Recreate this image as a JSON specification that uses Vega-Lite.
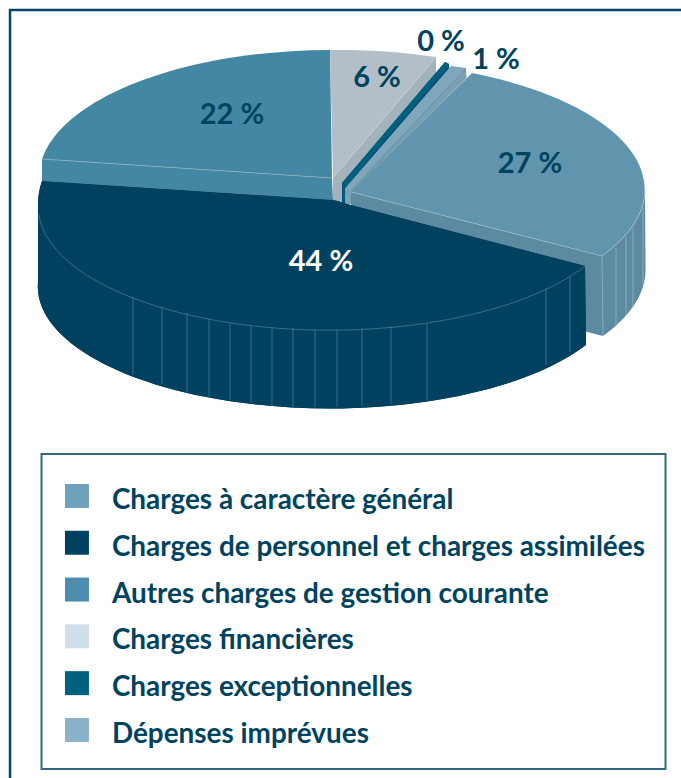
{
"$schema":"https://vega.github.io/schema/vega-lite/v6.json",
"width":674,"height":770,
"autosize":{"type":"none"},
"padding":{"left":10,"top":10,"right":0,"bottom":0},
"background":"#ffffff",
"view":{"stroke":"#004563","strokeWidth":2.5,"fill":null},
"config":{"legend":{"strokeWidth":2}},
"data":{"values":[
{"category":"Autres charges de gestion courante","value":22,"label":"22 %"},
{"category":"Charges financières","value":6,"label":"6 %"},
{"category":"Charges exceptionnelles","value":0,"label":"0 %"},
{"category":"Dépenses imprévues","value":1,"label":"1 %"},
{"category":"Charges à caractère général","value":27,"label":"27 %"},
{"category":"Charges de personnel et charges assimilées","value":44,"label":"44 %"}
]},
"layer":[
{"mark":{"type":"point","filled":true,"opacity":1,"strokeWidth":0},
 "encoding":{
  "size":{"value":4},
  "color":{"field":"category","type":"nominal","legend":null,
   "scale":{"domain":["Charges à caractère général","Charges de personnel et charges assimilées","Autres charges de gestion courante","Charges financières","Charges exceptionnelles","Dépenses imprévues"],
            "range":["#5b8aa1","#00415f","#4487a3","#a4b2bb","#00587a","#7ba0b4"]}},
  "shape":{"field":"category","type":"nominal","legend":null,
   "scale":{"domain":["Charges à caractère général","Charges de personnel et charges assimilées","Autres charges de gestion courante","Charges financières","Charges exceptionnelles","Dépenses imprévues"],
            "range":[
"M4,-203 L255,-139 A294,128 0 0 0 298,-205 L298.5,-128 A294,128 0 0 1 256,-59 L4,-123 Z",
"M-305,-214 L-14,-195 Q-8,-194 -4,-192 L238,-129 L239,-50 A292,122 0 0 1 -309,-113 L-309,-190 Q-309,-203 -305,-214 Z",
"M-305,-236 L-15,-217 L-14,-195 L-305,-214 Z",
"M-14,-217 L89,-338 L89,-316 L-2,-209 L-2,-191 L-14,-195 Z",
"M-5,-212 L98,-333 L102,-331 L102,-325 L-2,-207 L-2,-191 L-5,-191 Z",
"M-2,-207 L119,-327 L119.5,-317 L4,-202 L4,-191 L-2,-191 Z"]}}
 }},
{"mark":{"type":"point","filled":true,"opacity":1,"strokeWidth":0},
 "encoding":{
  "size":{"value":4},
  "color":{"field":"category","type":"nominal","legend":null,
   "scale":{"domain":["Charges à caractère général","Charges de personnel et charges assimilées","Autres charges de gestion courante","Charges financières","Charges exceptionnelles","Dépenses imprévues"],
            "range":["#6095ad","#00415f","#4487a3","#b2bfc9","#00607f","#7fa6ba"]}},
  "shape":{"field":"category","type":"nominal","legend":null,
   "scale":{"domain":["Charges à caractère général","Charges de personnel et charges assimilées","Autres charges de gestion courante","Charges financières","Charges exceptionnelles","Dépenses imprévues"],
            "range":[
"M4,-203 L125,-322 A294,128 0 0 1 255,-139 Z",
"M-305,-214 L-14,-195 Q-8,-194 -4,-192 L238,-129 L239,-50 A292,122 0 0 1 -309,-113 L-309,-190 Q-309,-203 -305,-214 Z",
"M-15,-217 L-305,-236 A293,128 0 0 1 -17,-345 Z",
"M-14,-217 L-17,-345 A293,128 0 0 1 89,-338 Z",
"M-5,-212 L98,-333 L102,-331 L-1,-210 Z",
"M-2,-207 L104,-329 L119,-327 L3,-205 Z"]}}
 }},
{"mark":{"type":"point","filled":false,"opacity":1,"strokeWidth":0.7},
 "encoding":{
  "size":{"value":4},
  "color":{"field":"category","type":"nominal","legend":null,
   "scale":{"domain":["Charges à caractère général","Charges de personnel et charges assimilées","Autres charges de gestion courante","Charges financières","Charges exceptionnelles","Dépenses imprévues"],
            "range":["#9dbac8","#4f8199","#8fb3c4","#c5d0d8","#00415f","#5b8aa1"]}},
  "shape":{"field":"category","type":"nominal","legend":null,
   "scale":{"domain":["Charges à caractère général","Charges de personnel et charges assimilées","Autres charges de gestion courante","Charges financières","Charges exceptionnelles","Dépenses imprévues"],
            "range":[
"M4,-203 L255,-139 M255,-139 L256,-59 M269,-147 L269,-68 M279,-158 L279,-79 M286,-167 L286,-88 M296,-188 L296,-109 M255,-139 A294,128 0 0 0 298,-205",
"M-308,-180 A291,123 0 0 0 238,-129 M-214,-98 L-214,-20 M-185,-88 L-185,-11 M-160,-82 L-160,-3 M-138,-77 L-138,2 M-117,-73 L-117,5 M-96,-70 L-96,8 M-75,-68 L-75,11 M-54,-67 L-54,12 M-32,-66 L-32,12 M-10,-66 L-10,12 M15,-67 L15,11 M44,-69 L44,9 M80,-72 L80,5 M199,-107 L199,-30 M223,-118 L223,-43",
"M-305,-236 L-15,-217",
"M-14,-217 L89,-338",
"M-2,-207 L102,-328",
"M4,-203 L119,-327"]}}
 }},
{"mark":{"type":"text","font":"Lato","fontWeight":"bold","fontSize":29,"baseline":"middle","align":"center"},
 "encoding":{
  "text":{"field":"label","type":"nominal"},
  "x":{"field":"value","type":"quantitative","axis":null,"scale":{"domain":[0,1,6,22,27,44],"range":[431,486,367,222,520,311]}},
  "y":{"field":"value","type":"quantitative","axis":null,"scale":{"domain":[0,1,6,22,27,44],"range":[32,50,68,105,154,252]}},
  "color":{"condition":{"test":"datum.value===44","value":"#ffffff"},"value":"#00435f"}
 }},
{"mark":{"type":"point","filled":true,"opacity":1,"strokeWidth":0},
 "encoding":{
  "size":{"value":0},
  "color":{"field":"category","type":"nominal",
   "scale":{"domain":["Charges à caractère général","Charges de personnel et charges assimilées","Autres charges de gestion courante","Charges financières","Charges exceptionnelles","Dépenses imprévues"],
            "range":["#6ea2bc","#00415f","#4d8dab","#d0e0ea","#00607f","#8ab2c8"]},
   "legend":{"title":" ","titleFontSize":8,"titlePadding":0,"orient":"none","legendX":31.5,"legendY":444,"strokeColor":"#33667f","padding":20,
     "symbolType":"square","symbolSize":576,"symbolStrokeWidth":0,"symbolOpacity":1,"symbolOffset":1.5,
     "labelFont":"Lato","labelFontWeight":"bold","labelFontSize":27.9,"labelColor":"#00435f","labelLimit":700,"labelOffset":21,
     "rowPadding":13.8,
     "encoding":{"labels":{"dy":{"value":5}}}}}
 }}
],
"resolve":{"scale":{"color":"independent","shape":"independent","x":"shared","y":"shared"},"legend":{"color":"independent"}}
}
